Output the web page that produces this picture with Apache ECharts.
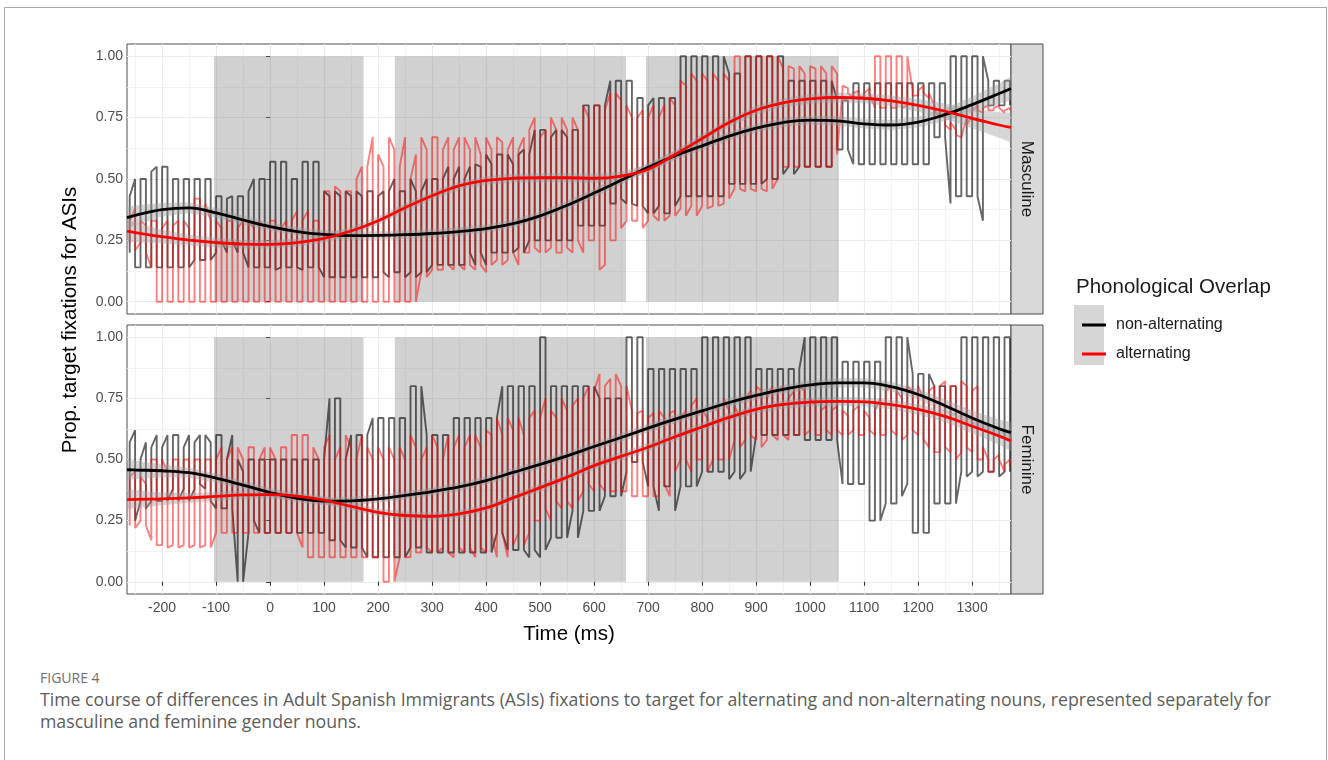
<!DOCTYPE html>
<html><head><meta charset="utf-8">
<script src="https://cdn.jsdelivr.net/npm/echarts@6/dist/echarts.min.js"></script>
<style>
html,body{margin:0;padding:0;background:#fff;}
#wrap{position:relative;width:1328px;height:760px;overflow:hidden;background:#fff;}
#frame{position:absolute;left:4px;top:7px;width:1323px;height:800px;border:1px solid #a9a9a9;box-sizing:border-box;}
#chart{position:absolute;left:0;top:0;width:1328px;height:660px;}
.cap{position:absolute;left:40px;font-family:'Open Sans',sans-serif;color:#5c5c5c;white-space:nowrap;}
</style></head><body>
<div id="wrap"><div id="frame"></div><div id="chart"></div>
<div class="cap" style="top:668px;font-size:14px;color:#6e6e6e;">FIGURE 4</div>
<div class="cap" style="top:688px;font-size:17.7px;line-height:22px;">Time course of differences in Adult Spanish Immigrants (ASIs) fixations to target for alternating and non-alternating nouns, represented separately for<br>masculine and feminine gender nouns.</div>
</div>
<script>
// ---------- data ----------
const panels = ['Masculine', 'Feminine'];
const seriesNames = ['non-alternating', 'alternating'];
const rawStart = -260, rawStep = 10;   // raw samples every 10 ms
const xTicks = [-200,-100,0,100,200,300,400,500,600,700,800,900,1000,1100,1200,1300];
const xMinor = [-250,-150,-50,50,150,250,350,450,550,650,750,850,950,1050,1150,1250,1350];
const yTicks = [0, 0.25, 0.5, 0.75, 1];
const yMinor = [0.125, 0.375, 0.625, 0.875];
const shadeRegions = [[-104, 173], [231, 659], [696, 1053]];

// Masculine, non-alternating raw (hi / lo per time sample)
const mascNonHi = [
0.43,0.50,0.50,0.50,0.53,0.55,0.55,0.55,0.50,0.50,
0.50,0.50,0.50,0.50,0.50,0.50,0.43,0.43,0.42,0.43,
0.43,0.43,0.45,0.50,0.50,0.50,0.57,0.57,0.57,0.57,
0.50,0.50,0.57,0.57,0.57,0.57,0.45,0.43,0.45,0.43,
0.45,0.43,0.45,0.43,0.45,0.45,0.43,0.45,0.45,0.50,
0.45,0.45,0.50,0.45,0.45,0.50,0.50,0.50,0.50,0.55,
0.50,0.55,0.50,0.55,0.56,0.55,0.60,0.56,0.60,0.60,
0.60,0.56,0.60,0.62,0.60,0.70,0.70,0.70,0.67,0.70,
0.70,0.67,0.70,0.70,0.80,0.80,0.80,0.80,0.80,0.90,
0.90,0.90,0.90,0.90,0.83,0.83,0.80,0.83,0.83,0.83,
0.83,0.83,1.00,1.00,1.00,1.00,1.00,1.00,1.00,1.00,
1.00,0.93,0.93,0.93,1.00,1.00,1.00,1.00,1.00,1.00,
1.00,1.00,0.90,0.90,0.90,0.90,0.90,0.90,0.90,0.90,
0.90,0.82,0.82,0.82,0.89,0.89,0.89,0.89,0.89,0.89,
0.89,0.89,0.89,0.89,0.89,0.89,0.89,0.89,0.89,0.89,
0.89,0.89,1.00,1.00,1.00,1.00,1.00,1.00,1.00,0.90,
0.90,0.90,0.90,0.90];
const mascNonLo = [
0.20,0.14,0.14,0.14,0.14,0.14,0.14,0.14,0.14,0.14,
0.14,0.14,0.17,0.17,0.17,0.17,0.20,0.25,0.20,0.25,
0.20,0.20,0.14,0.14,0.14,0.14,0.14,0.13,0.14,0.14,
0.14,0.14,0.13,0.14,0.14,0.14,0.10,0.10,0.10,0.10,
0.10,0.10,0.10,0.10,0.10,0.10,0.10,0.12,0.10,0.12,
0.12,0.10,0.12,0.10,0.12,0.12,0.15,0.15,0.15,0.15,
0.15,0.15,0.15,0.20,0.15,0.20,0.15,0.20,0.20,0.20,
0.20,0.20,0.22,0.20,0.25,0.25,0.25,0.25,0.25,0.25,
0.25,0.25,0.25,0.31,0.31,0.31,0.31,0.31,0.31,0.40,
0.40,0.42,0.40,0.40,0.39,0.39,0.36,0.36,0.39,0.36,
0.36,0.39,0.43,0.43,0.43,0.43,0.43,0.43,0.43,0.43,
0.43,0.48,0.48,0.48,0.48,0.48,0.48,0.48,0.50,0.50,
0.50,0.52,0.55,0.52,0.55,0.55,0.55,0.55,0.55,0.55,
0.55,0.62,0.62,0.62,0.56,0.56,0.56,0.56,0.56,0.56,
0.56,0.56,0.56,0.56,0.56,0.56,0.56,0.56,0.56,0.67,
0.67,0.67,0.40,0.43,0.43,0.43,0.43,0.43,0.33,0.80,
0.80,0.80,0.80,0.80];
// Masculine, alternating raw
const mascAltHi = [
0.33,0.38,0.33,0.31,0.33,0.33,0.30,0.33,0.31,0.33,
0.33,0.30,0.42,0.42,0.40,0.33,0.33,0.30,0.33,0.33,
0.30,0.33,0.33,0.30,0.33,0.30,0.33,0.33,0.30,0.33,
0.33,0.37,0.33,0.37,0.33,0.33,0.45,0.45,0.47,0.45,
0.45,0.45,0.50,0.55,0.55,0.67,0.60,0.55,0.67,0.62,
0.55,0.67,0.50,0.60,0.67,0.62,0.67,0.67,0.62,0.67,
0.62,0.67,0.67,0.62,0.67,0.60,0.67,0.62,0.67,0.65,
0.62,0.67,0.62,0.67,0.70,0.75,0.67,0.70,0.75,0.70,
0.75,0.70,0.75,0.70,0.80,0.75,0.80,0.80,0.78,0.85,
0.85,0.82,0.80,0.75,0.75,0.78,0.75,0.80,0.75,0.80,
0.83,0.80,0.90,0.88,0.93,0.90,0.93,0.90,0.93,0.90,
0.93,0.90,1.00,1.00,1.00,1.00,1.00,1.00,1.00,1.00,
1.00,0.95,0.96,0.95,0.96,0.93,0.96,0.95,0.96,0.93,
0.96,0.93,0.88,0.87,0.85,0.86,0.85,0.87,1.00,1.00,
1.00,1.00,1.00,1.00,1.00,0.86,0.86,0.88,0.85,0.80,
0.77,0.75,0.73,0.70,0.67,0.75,0.78,0.80,0.79,0.80,
0.79,0.80,0.78,0.79];
const mascAltLo = [
0.24,0.21,0.24,0.20,0.14,0.00,0.00,0.00,0.00,0.00,
0.00,0.00,0.00,0.00,0.00,0.00,0.00,0.00,0.00,0.00,
0.00,0.00,0.00,0.00,0.00,0.00,0.00,0.00,0.00,0.00,
0.00,0.00,0.00,0.00,0.00,0.00,0.00,0.00,0.00,0.00,
0.00,0.00,0.00,0.00,0.00,0.00,0.00,0.00,0.00,0.00,
0.00,0.00,0.00,0.00,0.12,0.10,0.13,0.13,0.13,0.15,
0.13,0.15,0.13,0.15,0.13,0.15,0.12,0.15,0.17,0.15,
0.17,0.20,0.15,0.20,0.20,0.22,0.20,0.20,0.22,0.20,
0.20,0.22,0.20,0.25,0.20,0.25,0.25,0.13,0.15,0.25,
0.25,0.30,0.33,0.33,0.33,0.30,0.33,0.35,0.33,0.33,
0.35,0.35,0.38,0.35,0.39,0.35,0.39,0.38,0.39,0.39,
0.40,0.42,0.46,0.46,0.45,0.46,0.45,0.46,0.45,0.46,
0.50,0.55,0.55,0.55,0.55,0.55,0.55,0.55,0.55,0.55,
0.55,0.60,0.86,0.85,0.83,0.84,0.83,0.85,0.79,0.79,
0.79,0.79,0.79,0.79,0.80,0.84,0.84,0.85,0.83,0.78,
0.75,0.72,0.70,0.68,0.67,0.72,0.76,0.78,0.77,0.78,
0.78,0.79,0.77,0.78];
// Feminine, non-alternating raw
const femNonHi = [
0.57,0.62,0.50,0.57,0.55,0.60,0.55,0.60,0.60,0.60,
0.55,0.60,0.57,0.60,0.60,0.57,0.60,0.60,0.50,0.60,
0.50,0.45,0.50,0.50,0.50,0.50,0.50,0.50,0.50,0.50,
0.50,0.50,0.50,0.50,0.50,0.50,0.50,0.75,0.75,0.75,
0.50,0.60,0.60,0.60,0.60,0.67,0.67,0.67,0.67,0.67,
0.67,0.67,0.80,0.80,0.80,0.60,0.60,0.60,0.60,0.60,
0.67,0.67,0.67,0.67,0.67,0.67,0.67,0.67,0.67,0.80,
0.80,0.80,0.80,0.80,0.80,0.80,1.00,1.00,0.80,0.80,
0.80,0.80,0.80,0.80,0.80,0.80,0.80,0.75,0.75,0.75,
0.75,0.75,1.00,1.00,1.00,1.00,0.87,0.87,0.87,0.87,
0.87,0.87,0.87,0.87,0.87,0.87,1.00,1.00,1.00,1.00,
1.00,1.00,1.00,1.00,1.00,1.00,0.87,0.87,0.87,0.87,
0.87,0.87,0.87,0.87,0.87,1.00,1.00,1.00,1.00,1.00,
1.00,1.00,0.90,0.90,0.90,0.90,0.90,0.90,0.90,0.90,
1.00,1.00,1.00,1.00,1.00,0.85,0.85,0.85,0.85,0.80,
0.80,0.80,0.80,0.80,1.00,1.00,1.00,1.00,1.00,1.00,
1.00,1.00,1.00,1.00];
const femNonLo = [
0.33,0.25,0.33,0.30,0.33,0.33,0.33,0.33,0.38,0.33,
0.38,0.33,0.38,0.40,0.38,0.33,0.30,0.30,0.30,0.30,
0.00,0.00,0.20,0.25,0.20,0.20,0.20,0.20,0.20,0.20,
0.20,0.20,0.20,0.20,0.20,0.20,0.20,0.17,0.17,0.17,
0.14,0.14,0.14,0.14,0.10,0.10,0.10,0.10,0.10,0.10,
0.10,0.10,0.14,0.14,0.14,0.12,0.12,0.12,0.12,0.12,
0.12,0.12,0.12,0.12,0.12,0.12,0.12,0.12,0.20,0.20,
0.13,0.13,0.13,0.13,0.10,0.13,0.10,0.13,0.18,0.18,
0.18,0.18,0.29,0.18,0.29,0.29,0.29,0.29,0.35,0.35,
0.35,0.35,0.45,0.49,0.49,0.49,0.39,0.39,0.29,0.39,
0.39,0.29,0.39,0.39,0.39,0.39,0.45,0.45,0.45,0.45,
0.45,0.42,0.45,0.42,0.45,0.45,0.60,0.60,0.60,0.60,
0.60,0.60,0.60,0.60,0.60,0.58,0.58,0.58,0.58,0.58,
0.58,0.58,0.40,0.40,0.40,0.40,0.40,0.25,0.25,0.25,
0.32,0.32,0.32,0.35,0.40,0.20,0.20,0.20,0.20,0.32,
0.32,0.32,0.32,0.32,0.45,0.43,0.45,0.43,0.45,0.45,
0.45,0.43,0.45,0.45];
// Feminine, alternating raw
const femAltHi = [
0.43,0.45,0.43,0.40,0.50,0.50,0.50,0.45,0.50,0.50,
0.50,0.50,0.50,0.50,0.50,0.50,0.50,0.55,0.50,0.55,
0.55,0.50,0.55,0.55,0.50,0.55,0.55,0.50,0.55,0.55,
0.60,0.60,0.60,0.60,0.55,0.50,0.55,0.60,0.50,0.55,
0.60,0.55,0.50,0.60,0.55,0.50,0.55,0.50,0.55,0.50,
0.55,0.50,0.60,0.55,0.50,0.55,0.60,0.55,0.50,0.60,
0.55,0.60,0.55,0.60,0.60,0.55,0.62,0.60,0.67,0.60,
0.67,0.62,0.67,0.60,0.67,0.70,0.67,0.75,0.70,0.67,
0.75,0.70,0.72,0.75,0.75,0.80,0.78,0.85,0.80,0.83,
0.85,0.80,0.80,0.70,0.69,0.70,0.67,0.69,0.70,0.67,
0.69,0.70,0.67,0.70,0.72,0.75,0.70,0.67,0.72,0.70,
0.75,0.70,0.72,0.67,0.75,0.78,0.80,0.78,0.75,0.80,
0.78,0.80,0.75,0.78,0.80,0.78,0.75,0.72,0.70,0.72,
0.70,0.72,0.70,0.68,0.70,0.72,0.70,0.67,0.70,0.75,
0.78,0.80,0.78,0.75,0.80,0.78,0.80,0.75,0.78,0.80,
0.80,0.82,0.80,0.80,0.82,0.80,0.78,0.80,0.55,0.50,
0.50,0.52,0.48,0.50];
const femAltLo = [
0.23,0.22,0.25,0.23,0.17,0.15,0.15,0.14,0.15,0.14,
0.15,0.14,0.15,0.14,0.15,0.14,0.20,0.20,0.20,0.20,
0.20,0.20,0.20,0.20,0.20,0.20,0.20,0.20,0.20,0.20,
0.20,0.20,0.14,0.10,0.10,0.10,0.10,0.10,0.10,0.10,
0.10,0.10,0.10,0.10,0.10,0.10,0.10,0.00,0.00,0.00,
0.10,0.10,0.10,0.12,0.12,0.14,0.12,0.12,0.14,0.12,
0.10,0.14,0.12,0.14,0.10,0.14,0.12,0.20,0.10,0.20,
0.10,0.15,0.20,0.15,0.20,0.25,0.25,0.30,0.25,0.33,
0.30,0.33,0.30,0.33,0.37,0.40,0.37,0.40,0.37,0.37,
0.37,0.37,0.37,0.35,0.35,0.35,0.35,0.35,0.35,0.40,
0.35,0.45,0.50,0.50,0.45,0.50,0.50,0.45,0.50,0.50,
0.50,0.50,0.58,0.55,0.58,0.60,0.58,0.55,0.58,0.60,
0.58,0.60,0.58,0.60,0.60,0.60,0.62,0.60,0.60,0.62,
0.60,0.62,0.60,0.60,0.62,0.60,0.60,0.62,0.60,0.60,
0.60,0.62,0.60,0.58,0.60,0.62,0.60,0.58,0.55,0.53,
0.53,0.55,0.53,0.50,0.53,0.55,0.53,0.50,0.50,0.45,
0.45,0.50,0.45,0.47];

// smoothed fits and their confidence half-widths
const fitTimes = [-265,-250,-200,-150,-100,-50,0,50,100,150,200,250,300,350,400,450,500,550,600,650,700,750,800,850,900,950,1000,1050,1100,1150,1200,1250,1300,1350,1372];
const mascNonFit = [0.343,0.352,0.375,0.382,0.362,0.333,0.306,0.286,0.274,0.269,0.270,0.273,0.278,0.286,0.298,0.318,0.350,0.393,0.443,0.495,0.548,0.595,0.635,0.675,0.707,0.730,0.740,0.737,0.725,0.720,0.732,0.762,0.803,0.848,0.869];
const mascAltFit = [0.288,0.282,0.265,0.251,0.241,0.235,0.234,0.241,0.258,0.288,0.330,0.383,0.432,0.472,0.494,0.503,0.505,0.505,0.503,0.512,0.540,0.600,0.665,0.730,0.780,0.810,0.826,0.832,0.829,0.818,0.800,0.776,0.747,0.720,0.710];
const femNonFit = [0.458,0.457,0.454,0.446,0.424,0.395,0.365,0.341,0.330,0.331,0.339,0.353,0.369,0.388,0.414,0.447,0.480,0.515,0.553,0.590,0.628,0.665,0.699,0.733,0.762,0.787,0.805,0.813,0.813,0.798,0.766,0.720,0.670,0.626,0.610];
const femAltFit = [0.336,0.337,0.339,0.343,0.349,0.355,0.356,0.350,0.334,0.308,0.284,0.271,0.268,0.278,0.302,0.343,0.385,0.428,0.475,0.513,0.550,0.593,0.633,0.672,0.705,0.725,0.735,0.738,0.736,0.724,0.705,0.676,0.636,0.596,0.576];
const mascNonSe = [0.045,0.040,0.028,0.022,0.020,0.018,0.017,0.017,0.017,0.017,0.017,0.017,0.017,0.017,0.017,0.017,0.018,0.018,0.018,0.018,0.018,0.018,0.018,0.018,0.018,0.018,0.019,0.019,0.019,0.020,0.022,0.026,0.032,0.042,0.048];
const mascAltSe = [0.045,0.040,0.028,0.022,0.020,0.018,0.017,0.017,0.017,0.017,0.017,0.017,0.017,0.017,0.017,0.017,0.018,0.018,0.018,0.018,0.018,0.018,0.018,0.018,0.018,0.018,0.019,0.019,0.020,0.022,0.026,0.032,0.040,0.052,0.060];
const femNonSe = [0.042,0.038,0.027,0.021,0.019,0.017,0.017,0.017,0.017,0.017,0.017,0.017,0.017,0.017,0.017,0.017,0.018,0.018,0.018,0.018,0.018,0.018,0.018,0.018,0.018,0.018,0.019,0.019,0.019,0.020,0.022,0.025,0.030,0.038,0.043];
const femAltSe = [0.040,0.036,0.026,0.020,0.018,0.017,0.016,0.016,0.016,0.016,0.016,0.016,0.016,0.016,0.016,0.016,0.017,0.017,0.017,0.017,0.017,0.017,0.017,0.017,0.017,0.017,0.018,0.018,0.018,0.019,0.021,0.024,0.029,0.036,0.041];

// ---------- build ----------
const rawTimes = mascNonHi.map((_, i) => rawStart + i * rawStep);
function zigzag(hi, lo) {
  const out = [];
  for (let i = 0; i < hi.length; i++) {
    const t = rawTimes[i];
    if (i % 2 === 0) { out.push([t, lo[i]], [t, hi[i]]); }
    else { out.push([t, hi[i]], [t, lo[i]]); }
  }
  return out;
}
const panelData = [
  { non: [mascNonHi, mascNonLo], alt: [mascAltHi, mascAltLo], fits: [mascNonFit, mascAltFit], ses: [mascNonSe, mascAltSe] },
  { non: [femNonHi, femNonLo], alt: [femAltHi, femAltLo], fits: [femNonFit, femAltFit], ses: [femNonSe, femAltSe] }
];
const FONT = "'Liberation Sans', Arial, sans-serif";
const fitColors = ['#000000', '#ff0000'];
const rawColors = ['rgba(0,0,0,0.6)', 'rgba(255,0,0,0.5)'];
const gridTops = [44, 325], gridHeights = [270, 269];
const X0 = -265, X1 = 1372, Y0 = -0.05, Y1 = 1.05;

const grids = [], xAxes = [], yAxes = [], series = [];
for (let g = 0; g < 2; g++) {
  grids.push({ left: 127, top: gridTops[g], width: 884, height: gridHeights[g], show: true,
    borderColor: '#4d4d4d', borderWidth: 1, backgroundColor: '#fff' });
  // major x
  xAxes.push({ type: 'value', gridIndex: g, min: X0, max: X1, position: 'bottom',
    axisLine: { show: false },
    axisTick: { show: g === 1, customValues: xTicks, length: 4, lineStyle: { color: '#333', width: 1 } },
    axisLabel: { show: g === 1, customValues: xTicks, formatter: v => String(v), color: '#4d4d4d', fontSize: 14, fontFamily: FONT, margin: 7 },
    splitLine: { show: true, lineStyle: { color: '#ebebeb', width: 1.2 } },
    name: g === 1 ? 'Time (ms)' : '', nameLocation: 'middle', nameGap: 30,
    nameTextStyle: { fontSize: 20.5, color: '#000', fontFamily: FONT } });
  // minor x
  xAxes.push({ type: 'value', gridIndex: g, min: X0, max: X1, position: 'top',
    axisLine: { show: false }, axisTick: { show: false, customValues: xMinor },
    axisLabel: { show: false, customValues: xMinor },
    splitLine: { show: true, lineStyle: { color: '#f0f0f0', width: 0.8 } } });
  // major y
  yAxes.push({ type: 'value', gridIndex: g, min: Y0, max: Y1, position: 'left',
    axisLine: { show: false },
    axisTick: { show: true, customValues: yTicks, length: 4, lineStyle: { color: '#333', width: 1 } },
    axisLabel: { customValues: yTicks, formatter: v => v.toFixed(2), color: '#4d4d4d', fontSize: 14, fontFamily: FONT, margin: 4 },
    splitLine: { show: true, lineStyle: { color: '#ebebeb', width: 1.2 } } });
  // minor y
  yAxes.push({ type: 'value', gridIndex: g, min: Y0, max: Y1, position: 'right',
    axisLine: { show: false }, axisTick: { show: false, customValues: yMinor },
    axisLabel: { show: false, customValues: yMinor },
    splitLine: { show: true, lineStyle: { color: '#f0f0f0', width: 0.8 } } });

  const xi = 2 * g, yi = 2 * g;
  const pd = panelData[g];
  // shaded windows (from shadeRegions, through the axes' scales)
  series.push({ type: 'custom', name: 'shade' + g, xAxisIndex: xi, yAxisIndex: yi, z: 1, silent: true,
    dimensions: ['start', 'end'], encode: { x: [0, 1] },
    data: shadeRegions.map(r => [r[0], r[1]]),
    renderItem: (params, api) => {
      const p0 = api.coord([api.value(0), 1]);
      const p1 = api.coord([api.value(1), 0]);
      return { type: 'rect', shape: { x: p0[0], y: p0[1], width: p1[0] - p0[0], height: p1[1] - p0[1] },
        style: { fill: 'rgba(128,128,128,0.36)' } };
    } });
  // raw lines
  [pd.non, pd.alt].forEach((hl, k) => {
    series.push({ type: 'line', name: 'raw' + g + k, xAxisIndex: xi, yAxisIndex: yi,
      data: zigzag(hl[0], hl[1]), showSymbol: false, silent: true, z: 2,
      lineStyle: { color: rawColors[k], width: 1.9 } });
  });
  // confidence ribbons
  for (let k = 0; k < 2; k++) {
    const fit = pd.fits[k], se = pd.ses[k];
    series.push({ type: 'custom', name: 'band' + g + k, xAxisIndex: xi, yAxisIndex: yi, z: 3, silent: true,
      dimensions: ['t', 'lo', 'hi'], encode: { x: 0, y: [1, 2] },
      data: fitTimes.map((t, i) => [t, fit[i] - se[i], fit[i] + se[i]]),
      renderItem: (params, api) => {
        if (params.dataIndex !== 0) return null;
        const pts = [];
        for (let i = 0; i < fitTimes.length; i++) pts.push(api.coord([fitTimes[i], fit[i] + se[i]]));
        for (let i = fitTimes.length - 1; i >= 0; i--) pts.push(api.coord([fitTimes[i], fit[i] - se[i]]));
        return { type: 'polygon', shape: { points: pts }, style: { fill: 'rgba(153,153,153,0.4)' } };
      } });
  }
  // fitted curves
  for (let k = 0; k < 2; k++) {
    series.push({ type: 'line', name: seriesNames[k], xAxisIndex: xi, yAxisIndex: yi,
      data: fitTimes.map((t, i) => [t, pd.fits[k][i]]), smooth: 0.4, showSymbol: false, silent: true, z: 4,
      itemStyle: { color: fitColors[k] }, lineStyle: { color: fitColors[k], width: 2.8 } });
  }
}

const graphic = [];
for (let g = 0; g < 2; g++) {
  graphic.push({ type: 'rect', shape: { x: 1011, y: gridTops[g], width: 32, height: gridHeights[g] },
    style: { fill: '#d9d9d9', stroke: '#4d4d4d', lineWidth: 1 }, silent: true });
  graphic.push({ type: 'text', x: 1027, y: gridTops[g] + gridHeights[g] / 2, rotation: -Math.PI / 2,
    style: { text: panels[g], align: 'center', verticalAlign: 'middle', fontSize: 17, fontFamily: FONT, fill: '#1a1a1a' }, silent: true });
}
graphic.push({ type: 'text', x: 70, y: 320, rotation: Math.PI / 2,
  style: { text: 'Prop. target fixations for ASIs', align: 'center', verticalAlign: 'middle', fontSize: 20.5, fontFamily: FONT, fill: '#000' }, silent: true });
graphic.push({ type: 'text', x: 1076, y: 287,
  style: { text: 'Phonological Overlap', align: 'left', verticalAlign: 'middle', fontSize: 20.5, fontFamily: FONT, fill: '#1a1a1a' }, silent: true });
graphic.push({ type: 'rect', shape: { x: 1074, y: 305, width: 30, height: 60 }, style: { fill: '#d6d6d6' }, silent: true, z: 0 });

const chart = echarts.init(document.getElementById('chart'), null, { renderer: 'canvas' });
chart.setOption({
  animation: false,
  backgroundColor: 'transparent',
  grid: grids, xAxis: xAxes, yAxis: yAxes, series: series, graphic: graphic,
  legend: { data: seriesNames, orient: 'vertical', left: 1077, top: 311, icon: 'rect', itemWidth: 24, itemHeight: 3,
    itemGap: 11, selectedMode: false,
    textStyle: { fontSize: 16, color: '#1a1a1a', fontFamily: FONT, lineHeight: 18, padding: [0, 0, 0, 5] } }
});
</script>
</body></html>
